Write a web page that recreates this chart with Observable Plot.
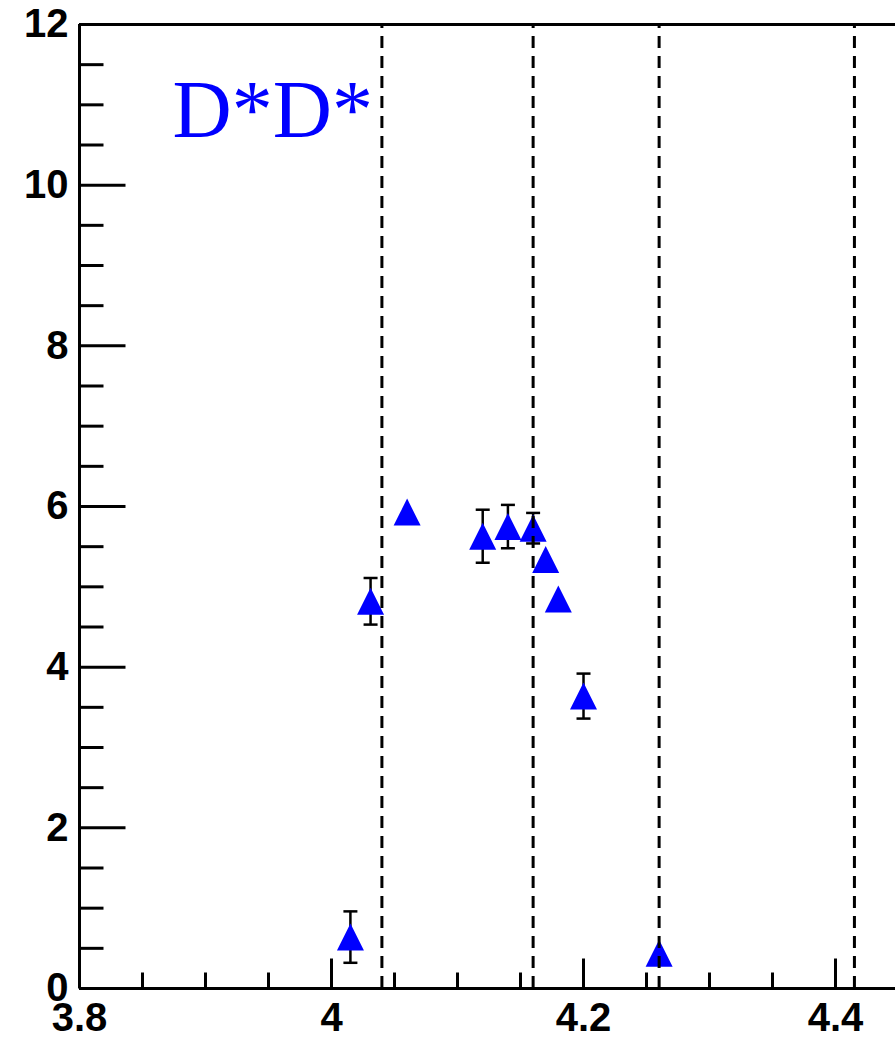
<!DOCTYPE html>
<html>
<head>
<meta charset="utf-8">
<script src="https://cdn.jsdelivr.net/npm/d3@7"></script>
<script src="https://cdn.jsdelivr.net/npm/@observablehq/plot@0.6"></script>
<style>
  html, body { margin: 0; padding: 0; background: #fff; }
  #chart svg { display: block; }
</style>
</head>
<body>
<div id="chart"></div>
<script>
// ---- data ----
const mass   = [4.015, 4.031, 4.060, 4.120, 4.140, 4.160, 4.170, 4.180, 4.200, 4.260];
const value  = [0.64, 4.82, 5.93, 5.63, 5.75, 5.73, 5.34, 4.85, 3.64, 0.44];
const errors = [0.32, 0.29, 0, 0.33, 0.27, 0.19, 0, 0, 0.28, 0];
const thresholds = [4.04, 4.16, 4.26, 4.415];
const xMajor = [3.8, 4.0, 4.2, 4.4];
const xMinor = [3.85, 3.9, 3.95, 4.05, 4.1, 4.15, 4.25, 4.3, 4.35];
const xLabels = ["3.8", "4", "4.2", "4.4"];
const yMajor = [0, 2, 4, 6, 8, 10, 12];
const yMinor = [0.5, 1, 1.5, 2.5, 3, 3.5, 4.5, 5, 5.5, 6.5, 7, 7.5, 8.5, 9, 9.5, 10.5, 11, 11.5];
const yLabels = ["0", "2", "4", "6", "8", "10", "12"];
const panelLabel = "D*D*";

const points = mass.map((m, i) => ({x: m, y: value[i], err: errors[i]}));
const withErr = points.filter(d => d.err > 0);

// ---- custom symbols (pixel-sized shapes) ----
const tri = {draw(ctx, size) { const r = Math.sqrt(size / Math.PI);
  ctx.moveTo(0, -r); ctx.lineTo(r, r); ctx.lineTo(-r, r); ctx.closePath(); }};
const hbar = {draw(ctx, size) { const r = Math.sqrt(size / Math.PI);
  ctx.moveTo(-r, 0); ctx.lineTo(r, 0); }};
const tickUp = {draw(ctx, size) { const r = Math.sqrt(size / Math.PI);
  ctx.moveTo(0, 0); ctx.lineTo(0, -r); }};
const tickRight = {draw(ctx, size) { const r = Math.sqrt(size / Math.PI);
  ctx.moveTo(0, 0); ctx.lineTo(r, 0); }};

const font = "Liberation Sans, Arial, Helvetica, sans-serif";

const chart = Plot.plot({
  width: 895,
  height: 1038,
  marginTop: 24,
  marginBottom: 50,
  marginLeft: 79,
  marginRight: 0,
  style: {background: "#fff", color: "#000", overflow: "visible"},
  x: {domain: [3.8, 4.4476], axis: null},
  y: {domain: [0, 12], axis: null},
  marks: [
    // error bars
    Plot.ruleX(withErr, {x: "x", y1: d => d.y - d.err, y2: d => d.y + d.err, stroke: "#000", strokeWidth: 2.5}),
    Plot.dot(withErr, {x: "x", y: d => d.y - d.err, symbol: hbar, r: 7, stroke: "#000", strokeWidth: 2.5, fill: "none"}),
    Plot.dot(withErr, {x: "x", y: d => d.y + d.err, symbol: hbar, r: 7, stroke: "#000", strokeWidth: 2.5, fill: "none"}),
    // markers
    Plot.dot(points, {x: "x", y: "y", symbol: tri, r: 13.5, fill: "#0000ff", stroke: "none"}),
    // threshold dashed lines
    Plot.ruleX(thresholds, {x: d => d, y1: 0, y2: 12, stroke: "#000", strokeWidth: 3, strokeDasharray: "12,8"}),
    // ticks (inward)
    Plot.dot(xMajor, {x: d => d, y: 0, symbol: tickUp, r: 30, stroke: "#000", strokeWidth: 3, fill: "none"}),
    Plot.dot(xMinor, {x: d => d, y: 0, symbol: tickUp, r: 16, stroke: "#000", strokeWidth: 3, fill: "none"}),
    Plot.dot(yMajor, {x: 3.8, y: d => d, symbol: tickRight, r: 46, stroke: "#000", strokeWidth: 3, fill: "none"}),
    Plot.dot(yMinor, {x: 3.8, y: d => d, symbol: tickRight, r: 24, stroke: "#000", strokeWidth: 3, fill: "none"}),
    // frame
    Plot.ruleX([3.8], {stroke: "#000", strokeWidth: 3}),
    Plot.ruleY([0, 12], {stroke: "#000", strokeWidth: 3}),
    // tick labels
    Plot.axisX({ticks: xMajor, tickSize: 0, tickPadding: 14, tickFormat: (d, i) => xLabels[i], label: null,
      fontSize: 40, fontWeight: "bold", fontFamily: font, fill: "#000"}),
    Plot.axisY({ticks: yMajor, tickSize: 0, tickPadding: 11, tickFormat: (d, i) => yLabels[i], label: null,
      fontSize: 40, fontWeight: "bold", fontFamily: font, fill: "#000"}),
    // panel label
    Plot.text([panelLabel], {text: d => d, frameAnchor: "top-left", dx: 93, dy: 112, lineAnchor: "bottom",
      textAnchor: "start", fontSize: 82, fontFamily: "Liberation Serif, Times New Roman, serif", fill: "#0000ff"})
  ]
});
document.getElementById("chart").appendChild(chart);
</script>
</body>
</html>
